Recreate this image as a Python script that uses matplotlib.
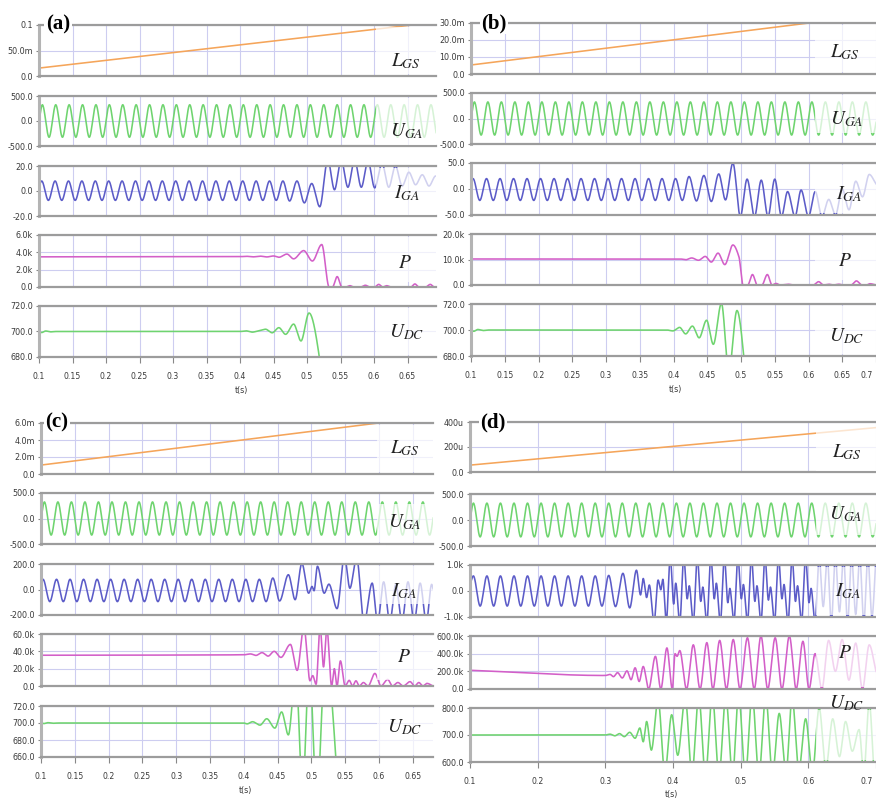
import numpy as np
import matplotlib
matplotlib.use("Agg")
import matplotlib.pyplot as plt

plt.rcParams['mathtext.fontset'] = 'stix'
plt.rcParams['font.family'] = ['DejaVu Sans']

# ======================= DATA =======================
PERIOD = 0.02                 # grid period, 50 Hz
UGA_START = 0.0
UGA_STEADY = [0.105, 0.705, 325.0, -325.0]   # first peak t, last extremum t, peak, trough

X_TICKS_ABC = [0.1, 0.15, 0.2, 0.25, 0.3, 0.35, 0.4, 0.45, 0.5, 0.55, 0.6, 0.65]
X_LABELS_ABC = ['0.1', '0.15', '0.2', '0.25', '0.3', '0.35', '0.4', '0.45', '0.5', '0.55', '0.6', '0.65']
X_TICKS_B = X_TICKS_ABC + [0.7]
X_LABELS_B = X_LABELS_ABC + ['']
X_TICKS_D = [0.1, 0.2, 0.3, 0.4, 0.5, 0.6, 0.7]
X_LABELS_D = ['0.1', '0.2', '0.3', '0.4', '0.5', '0.6', '']
EDGE_TICK_LABEL = '0.7'

SIGNAL_NAMES = ['$L_{GS}$', '$U_{GA}$', '$I_{GA}$', '$P$', '$U_{DC}$']

# ---------- panel (a) ----------
A_YTICKS = [[0, 0.05, 0.1], [-500, 0, 500], [-20, 0, 20], [0, 2000, 4000, 6000], [680, 700, 720]]
A_YLABELS = [['0.0', '50.0m', '0.1'], ['-500.0', '0.0', '500.0'], ['-20.0', '0.0', '20.0'],
             ['0.0', '2.0k', '4.0k', '6.0k'], ['680.0', '700.0', '720.0']]
A_LGS_T = [0.1, 0.6925]
A_LGS_V = [0.0155, 0.1054]
A_IGA_START = 4.0
A_IGA_STEADY = [0.104, 0.424, 8.0, -7.5]
A_IGA_T = [0.434, 0.444, 0.454, 0.464, 0.474, 0.485, 0.496, 0.507, 0.519, 0.531, 0.541, 0.551,
           0.561, 0.571, 0.581, 0.591, 0.601, 0.612, 0.622, 0.632, 0.642, 0.652, 0.662, 0.672,
           0.682, 0.692, 0.70]
A_IGA_V = [-7.5, 8.0, -7.5, 8.0, -8.0, 8.0, -9.5, 6.0, -12.6, 25, 1, 25, 3, 25, 3, 24, 2.5, 22,
           3, 20, 4, 15, 5, 13, 4, 12, 5]
A_P_T = [0.1, 0.40, 0.41, 0.42, 0.43, 0.44, 0.45, 0.458, 0.47, 0.48, 0.495, 0.508, 0.522, 0.533,
         0.538, 0.545, 0.552, 0.558, 0.564, 0.57, 0.58, 0.587, 0.594, 0.601, 0.607, 0.613, 0.619,
         0.625, 0.655, 0.661, 0.667, 0.677, 0.684, 0.69, 0.694]
A_P_V = [3480, 3500, 3540, 3480, 3560, 3470, 3580, 3430, 3800, 3250, 4200, 3000, 4900, 0,
         0, 1200, 0, 0, 150, 0, 0, 200, 0, 0, 300, 0, 150,
         0, 0, 350, 0, 0, 300, 0, 0]
A_UDC_T = [0.1, 0.104, 0.11, 0.117, 0.125, 0.40, 0.409, 0.418, 0.428, 0.438, 0.448, 0.458,
           0.468, 0.48, 0.491, 0.503, 0.53]
A_UDC_V = [700.2, 699.2, 700.4, 699.7, 700, 700, 700.5, 699.5, 700.6, 701.8, 699, 703,
           697.8, 705.8, 692.6, 714.5, 640]

# ---------- panel (b) ----------
B_YTICKS = [[0, 0.01, 0.02, 0.03], [-500, 0, 500], [-50, 0, 50], [0, 10000, 20000], [680, 700, 720]]
B_YLABELS = [['0.0', '10.0m', '20.0m', '30.0m'], ['-500.0', '0.0', '500.0'], ['-50.0', '0.0', '50.0'],
             ['0.0', '10.0k', '20.0k'], ['680.0', '700.0', '720.0']]
B_LGS_T = [0.1, 0.7]
B_LGS_V = [0.0053, 0.0349]
B_IGA_START = 12.0
B_IGA_STEADY = [0.103, 0.403, 20.0, -22.0]
B_IGA_T = [0.413, 0.423, 0.434, 0.445, 0.456, 0.467, 0.477, 0.488, 0.499, 0.509, 0.52, 0.53,
           0.54, 0.55, 0.56, 0.569, 0.58, 0.589, 0.6, 0.61, 0.62, 0.63, 0.64, 0.65, 0.66, 0.67,
           0.68, 0.69, 0.70]
B_IGA_V = [-22, 24, -23, 26, -24, 29, -21, 50, -53, 19, -53, 17, -53, 19, -53, -5, -53, -2,
           -53, -5, -53, -20, -50, 0, -40, 15, -15, 28, 10]
B_P_T = [0.1, 0.41, 0.418, 0.427, 0.437, 0.447, 0.456, 0.466, 0.476, 0.488, 0.497, 0.503, 0.51,
         0.517, 0.524, 0.531, 0.539, 0.546, 0.552, 0.558, 0.57, 0.578, 0.607, 0.615, 0.622, 0.63,
         0.637, 0.645, 0.652, 0.663, 0.671, 0.679, 0.686, 0.691, 0.70]
B_P_V = [10200, 10200, 9900, 10600, 9700, 11200, 9000, 12500, 8000, 15700, 11000, 0, 0,
         4100, 0, 0, 4100, 0, 600, 0, 300, 0, 0, 1300, 0, 300,
         0, 300, 0, 0, 1600, 0, 0, 500, 0]
B_UDC_T = [0.1, 0.104, 0.11, 0.118, 0.126, 0.39, 0.399, 0.409, 0.418, 0.428, 0.438, 0.449,
           0.459, 0.471, 0.482, 0.494, 0.51]
B_UDC_V = [700.2, 699.0, 700.4, 699.6, 700, 700, 699.3, 702, 697, 703, 694, 707.5,
           689, 720.5, 668, 715, 650]

# ---------- panel (c) ----------
C_YTICKS = [[0, 0.002, 0.004, 0.006], [-500, 0, 500], [-200, 0, 200], [0, 20000, 40000, 60000],
            [660, 680, 700, 720]]
C_YLABELS = [['0.0', '2.0m', '4.0m', '6.0m'], ['-500.0', '0.0', '500.0'], ['-200.0', '0.0', '200.0'],
             ['0.0', '20.0k', '40.0k', '60.0k'], ['660.0', '680.0', '700.0', '720.0']]
C_LGS_T = [0.1, 0.68]
C_LGS_V = [0.00105, 0.0068]
C_IGA_START = 50.0
C_IGA_STEADY = [0.103, 0.423, 80.0, -95.0]
C_IGA_T = [0.433, 0.443, 0.453, 0.466, 0.476, 0.486, 0.496, 0.501, 0.504, 0.509, 0.519, 0.526,
           0.538, 0.549, 0.557, 0.567, 0.578, 0.59, 0.598, 0.607, 0.616, 0.625, 0.634, 0.643,
           0.652, 0.661, 0.67, 0.678, 0.685]
C_IGA_V = [-95, 90, -90, 116, -80, 205, -29, 24, -10, 182, -29, 42,
           -150, 260, 10, 250, -260, 50, -260, 60, -260, 40, -260, 60,
           -260, 50, -260, 40, -200]
C_P_T = [0.1, 0.40, 0.41, 0.418, 0.427, 0.436, 0.445, 0.455, 0.469, 0.479, 0.489, 0.498, 0.502,
         0.507, 0.513, 0.518, 0.523, 0.53, 0.534, 0.538, 0.543, 0.55, 0.556, 0.561, 0.566, 0.571,
         0.577, 0.584, 0.594, 0.603, 0.613, 0.62, 0.628, 0.636, 0.646, 0.653, 0.659, 0.665,
         0.671, 0.68]
C_P_V = [35500, 36000, 37000, 35300, 38500, 34500, 40000, 33000, 48000, 18000, 68000, 6000, 12000,
         2000, 68000, 22000, 66000, 0, 20000, 0, 29000, 0, 6500, 0, 6000, 0,
         4000, 0, 14500, 0, 7500, 0, 4000, 0, 5000, 0, 4000, 0,
         3000, 0]
C_UDC_T = [0.1, 0.104, 0.11, 0.118, 0.126, 0.40, 0.405, 0.413, 0.424, 0.434, 0.446, 0.456,
           0.466, 0.477, 0.487, 0.497, 0.508, 0.521, 0.545]
C_UDC_V = [700.2, 699.3, 700.4, 699.7, 700, 700, 699, 701.5, 697.5, 705, 694, 713,
           686, 760, 620, 770, 610, 780, 560]

# ---------- panel (d) ----------
D_YTICKS = [[0, 200e-6, 400e-6], [-500, 0, 500], [-1000, 0, 1000], [0, 200e3, 400e3, 600e3],
            [600, 700, 800]]
D_YLABELS = [['0.0', '200u', '400u'], ['-500.0', '0.0', '500.0'], ['-1.0k', '0.0', '1.0k'],
             ['0.0', '200.0k', '400.0k', '600.0k'], ['600.0', '700.0', '800.0']]
D_LGS_T = [0.1, 0.7]
D_LGS_V = [55e-6, 355e-6]
D_IGA_START = 250.0
D_IGA_STEADY = [0.105, 0.295, 580.0, -580.0]
D_IGA_T = [0.305, 0.315, 0.326, 0.336, 0.346, 0.352, 0.356, 0.361, 0.365, 0.372, 0.378, 0.382,
           0.385, 0.39, 0.396, 0.401, 0.404, 0.41, 0.416, 0.421, 0.424, 0.43, 0.436, 0.441,
           0.444, 0.45, 0.456, 0.461, 0.464, 0.47, 0.476, 0.481, 0.484, 0.49, 0.496, 0.501,
           0.504, 0.51, 0.516, 0.521, 0.524, 0.53, 0.536, 0.541, 0.544, 0.55, 0.556, 0.561,
           0.564, 0.57, 0.576, 0.581, 0.584, 0.59, 0.596, 0.601, 0.604, 0.61, 0.616, 0.622,
           0.628, 0.634, 0.64, 0.646, 0.652, 0.658, 0.664, 0.67, 0.676, 0.682, 0.688, 0.694, 0.70]
D_IGA_V = [600, -600, 680, -650, 800, -150, 480, -250, 230, -1200, 420, 50,
           450, -1200, 1300, -500, 300, -1200, 1300, -300, 200, -1200, 1300, -400,
           150, -1200, 1300, -300, 300, -1200, 1300, -450, 100, -1200, 1300, -300,
           250, -1200, 1300, -400, 200, -1200, 1300, -350, 150, -1200, 1300, -300,
           250, -1200, 1300, -400, 200, -1200, 1300, -450, 100, -1200, 1300, -600,
           1300, -1200, 1300, -800, 1300, -1200, 1300, -900, 1300, -1200, 1300, -1000, 1300]
D_P_T = [0.1, 0.3, 0.307, 0.312, 0.318, 0.325, 0.332, 0.338, 0.344, 0.35, 0.356, 0.364, 0.374,
         0.382, 0.391, 0.399, 0.403, 0.406, 0.41, 0.42, 0.43, 0.44, 0.45, 0.459, 0.469, 0.479,
         0.489, 0.499, 0.51, 0.52, 0.53, 0.54, 0.551, 0.561, 0.572, 0.582, 0.592, 0.601, 0.61,
         0.62, 0.63, 0.64, 0.65, 0.66, 0.67, 0.68, 0.69, 0.70]
D_P_V = [212e3, 153e3, 165e3, 140e3, 185e3, 125e3, 205e3, 105e3, 240e3, 85e3, 255e3, 0, 370e3,
         0, 465e3, 0, 400e3, 370e3, 435e3, 0, 500e3, 0, 525e3, 0, 550e3, 0,
         560e3, 0, 580e3, 0, 600e3, 0, 580e3, 0, 600e3, 0, 540e3, 0, 400e3,
         0, 550e3, 200e3, 560e3, 100e3, 520e3, 0, 500e3, 200e3]
D_UDC_T = [0.1, 0.3, 0.307, 0.314, 0.321, 0.328, 0.336, 0.344, 0.351, 0.356, 0.361, 0.368,
           0.378, 0.388, 0.398, 0.407, 0.418, 0.428, 0.438, 0.448, 0.458, 0.468, 0.478, 0.488,
           0.497, 0.507, 0.517, 0.527, 0.537, 0.547, 0.557, 0.567, 0.576, 0.586, 0.596, 0.606,
           0.616, 0.626, 0.636, 0.646, 0.655, 0.665, 0.675, 0.682, 0.69, 0.697]
D_UDC_V = [700, 700, 703, 697, 705, 694, 710, 688, 726, 675, 750, 644,
           830, 560, 775, 625, 840, 555, 845, 550, 850, 550, 845, 550,
           850, 550, 850, 550, 845, 555, 780, 560, 840, 570, 760, 560,
           800, 580, 760, 620, 750, 640, 720, 560, 820, 560]

# ======================= HELPERS =======================
def steady(start, params):
    """Extrema of a steady 50 Hz oscillation: params = first peak t, last t, peak, trough."""
    t0, t1, hi, lo = params
    n = int(round((t1 - t0) / (PERIOD / 2))) + 1
    ts = [0.1] + [t0 + k * PERIOD / 2 for k in range(n)]
    vs = [start] + [hi if k % 2 == 0 else lo for k in range(n)]
    return ts, vs


def smooth(ts, vs, n=6000):
    """Monotone cubic (PCHIP) curve through the read key points."""
    x = np.asarray(ts, float)
    y = np.asarray(vs, float)
    h = np.diff(x)
    d = np.diff(y) / h
    m = np.zeros_like(y)
    for k in range(1, len(x) - 1):
        if d[k - 1] * d[k] > 0:
            w1 = 2 * h[k] + h[k - 1]
            w2 = h[k] + 2 * h[k - 1]
            m[k] = (w1 + w2) / (w1 / d[k - 1] + w2 / d[k])
    m[0] = d[0]
    m[-1] = d[-1]
    xn = np.linspace(x[0], x[-1], n)
    i = np.clip(np.searchsorted(x, xn, side='right') - 1, 0, len(x) - 2)
    t = (xn - x[i]) / h[i]
    h00 = 2 * t ** 3 - 3 * t ** 2 + 1
    h10 = t ** 3 - 2 * t ** 2 + t
    h01 = -2 * t ** 3 + 3 * t ** 2
    h11 = t ** 3 - t ** 2
    yn = h00 * y[i] + h10 * h[i] * m[i] + h01 * y[i + 1] + h11 * h[i] * m[i + 1]
    return xn, yn


def build(start, params, t_list, v_list):
    ts, vs = steady(start, params)
    return smooth(ts + list(t_list), vs + list(v_list))


# ======================= LAYOUT / STYLE =======================
W, H = 876, 798
COLORS = ['#f5a55a', '#6fd46f', '#5c5cc8', '#d35fc8', '#6fd46f']
GRID = '#cdcdf0'
FRAME = '#9c9c9c'
TXT = '#3a3a3a'

LAYOUT = {
    'a': dict(left=39, right=436, rows=[(25, 76), (96, 146), (166, 216), (235, 287), (306, 357)],
              xlim=(0.1, 0.6925), fade=0.603, letter=(58, 24), edge=None,
              labels=[(406, 61), (407, 131), (407, 193), (405, 263), (407, 332)], xlabel=(241, 390)),
    'b': dict(left=471, right=876, rows=[(23, 74), (93, 144), (163, 215), (234, 285), (304, 356)],
              xlim=(0.1, 0.7), fade=0.609, letter=(494, 23), edge=(873, 375),
              labels=[(845, 52), (847, 119), (849, 194), (845, 260), (847, 336)], xlabel=(675, 389)),
    'c': dict(left=41, right=433, rows=[(423, 474), (493, 544), (564, 615), (634, 686), (706, 757)],
              xlim=(0.1, 0.68), fade=0.597, letter=(57, 422), edge=None,
              labels=[(405, 448), (405, 522), (404, 591), (404, 657), (405, 727)], xlabel=(245, 790)),
    'd': dict(left=470, right=876, rows=[(422, 472), (494, 546), (565, 617), (636, 689), (708, 762)],
              xlim=(0.1, 0.7), fade=0.612, letter=(493, 422), edge=(873, 781),
              labels=[(847, 452), (846, 514), (848, 591), (845, 653), (847, 703)], xlabel=(671, 794)),
}
OVERLAY_Y = {('b', 1): (0.21, 0.97), ('c', 1): (0.03, 0.79), ('d', 1): (0.21, 0.97),
             ('c', 2): (0.22, 0.97), ('a', 3): (0.10, 0.97), ('b', 3): (0.10, 0.97),
             ('c', 3): (0.12, 0.97)}

PANEL_DATA = {
    'a': dict(yt=A_YTICKS, yl=A_YLABELS, xt=X_TICKS_ABC, xl=X_LABELS_ABC,
              lgs=(A_LGS_T, A_LGS_V), iga=build(A_IGA_START, A_IGA_STEADY, A_IGA_T, A_IGA_V),
              p=smooth(A_P_T, A_P_V), udc=smooth(A_UDC_T, A_UDC_V)),
    'b': dict(yt=B_YTICKS, yl=B_YLABELS, xt=X_TICKS_B, xl=X_LABELS_B,
              lgs=(B_LGS_T, B_LGS_V), iga=build(B_IGA_START, B_IGA_STEADY, B_IGA_T, B_IGA_V),
              p=smooth(B_P_T, B_P_V), udc=smooth(B_UDC_T, B_UDC_V)),
    'c': dict(yt=C_YTICKS, yl=C_YLABELS, xt=X_TICKS_ABC, xl=X_LABELS_ABC,
              lgs=(C_LGS_T, C_LGS_V), iga=build(C_IGA_START, C_IGA_STEADY, C_IGA_T, C_IGA_V),
              p=smooth(C_P_T, C_P_V), udc=smooth(C_UDC_T, C_UDC_V)),
    'd': dict(yt=D_YTICKS, yl=D_YLABELS, xt=X_TICKS_D, xl=X_LABELS_D,
              lgs=(D_LGS_T, D_LGS_V), iga=build(D_IGA_START, D_IGA_STEADY, D_IGA_T, D_IGA_V),
              p=smooth(D_P_T, D_P_V), udc=smooth(D_UDC_T, D_UDC_V)),
}
UGA_CURVE = build(UGA_START, UGA_STEADY, [], [])

fig = plt.figure(figsize=(W / 100, H / 100), dpi=100)
fig.patch.set_facecolor('white')

for key, lay in LAYOUT.items():
    dat = PANEL_DATA[key]
    curves = [dat['lgs'], UGA_CURVE, dat['iga'], dat['p'], dat['udc']]
    for r, (top, bot) in enumerate(lay['rows']):
        ax = fig.add_axes([lay['left'] / W, 1 - bot / H, (lay['right'] - lay['left']) / W, (bot - top) / H])
        tx, ty = curves[r]
        ax.plot(tx, ty, color=COLORS[r], lw=1.15, zorder=2, solid_joinstyle='round')
        ax.set_xlim(*lay['xlim'])
        yt = dat['yt'][r]
        ax.set_ylim(yt[0], yt[-1])
        ax.set_yticks(yt, dat['yl'][r])
        ax.set_xticks(dat['xt'], dat['xl'])
        ax.grid(True, color=GRID, lw=0.8, zorder=0)
        ax.set_axisbelow(True)
        for s in ['top', 'bottom']:
            ax.spines[s].set_color(FRAME)
            ax.spines[s].set_linewidth(1.6)
        ax.spines['left'].set_color('#b4b4b4')
        ax.spines['left'].set_linewidth(2.2)
        ax.spines['right'].set_visible(False)
        ax.tick_params(axis='y', length=2, width=0.8, color='#888888', pad=2.5,
                       labelsize=5.8, labelcolor=TXT)
        if r == 4:
            ax.tick_params(axis='x', length=4.5, width=0.8, color='#888888', pad=6.5,
                           labelsize=5.6, labelcolor=TXT, direction='out')
        else:
            ax.tick_params(axis='x', length=0, labelbottom=False)
        y0, y1 = OVERLAY_Y.get((key, r), (0.03, 0.97))
        ax.axvspan(lay['fade'], lay['xlim'][1] + 0.01, y0, y1, color='white', alpha=0.72,
                   lw=0, zorder=3)
        lx, ly = lay['labels'][r]
        fig.text(lx / W, 1 - ly / H, SIGNAL_NAMES[r], fontsize=14, color='#222222',
                 ha='center', va='center')
    if lay['edge'] is not None:
        fig.text(lay['edge'][0] / W, 1 - lay['edge'][1] / H, EDGE_TICK_LABEL, fontsize=5.6,
                 color=TXT, ha='right', va='center')
    fig.text(lay['letter'][0] / W, 1 - lay['letter'][1] / H, '(%s)' % key, fontsize=15,
             fontweight='bold', family=['Liberation Serif', 'DejaVu Serif'], ha='center', va='center',
             bbox=dict(fc='white', ec='none', pad=1.0))
    fig.text(lay['xlabel'][0] / W, 1 - lay['xlabel'][1] / H, 't(s)', fontsize=5.8, color=TXT,
             ha='center', va='center')

fig.savefig('out.png', dpi=100, facecolor='white')
